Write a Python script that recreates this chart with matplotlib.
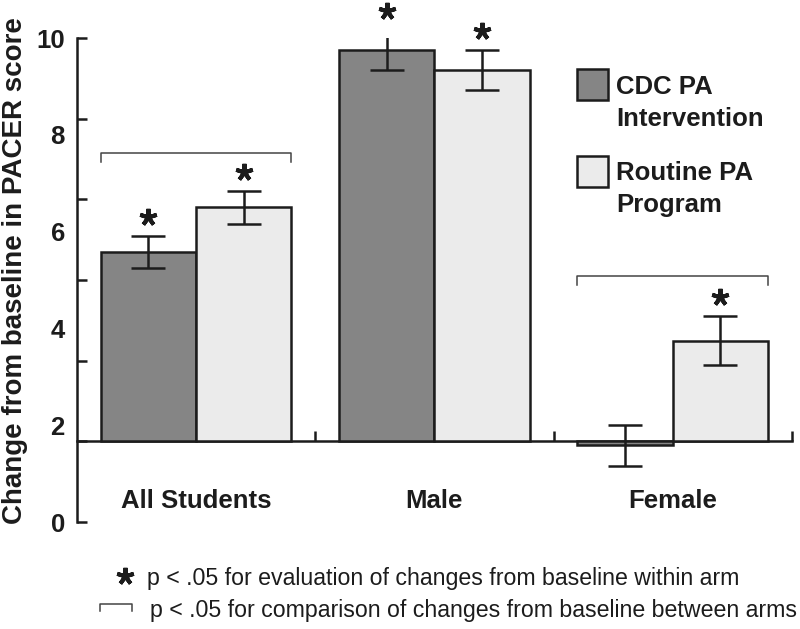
import matplotlib
matplotlib.use("Agg")
import matplotlib.pyplot as plt
from matplotlib.patches import Rectangle
import numpy as np

plt.rcParams['font.family'] = ['Liberation Sans', 'DejaVu Sans']

groups = ['All Students', 'Male', 'Female']
cdc = [4.7, 9.7, -0.1]
cdc_err = [0.4, 0.5, 0.5]
routine = [5.8, 9.2, 2.5]
routine_err = [0.4, 0.5, 0.6]
cdc_star = [True, True, False]
routine_star = [True, True, True]
bracket_groups = [0, 2]
bracket_level = [7.15, 4.1]
series_names = ['CDC PA\nIntervention', 'Routine PA\nProgram']
axis_ticks = [-2, 0, 2, 4, 6, 8, 10]
axis_labels = [0, 2, 4, 6, 8, 10]
note_star = 'p < .05 for evaluation of changes from baseline within arm'
note_bracket = 'p < .05 for comparison of changes from baseline between arms'

ink = '#1c1c1c'
dark = '#858585'
light = '#ebebeb'

fig = plt.figure(figsize=(8, 6.29), dpi=100)
ax = fig.add_axes([0.096, 0.170, 0.894, 0.7695])

x = np.arange(len(groups))
w = 0.4
ekw = dict(ecolor=ink, elinewidth=1.8, capsize=12, capthick=1.8)
ax.bar(x - w / 2, cdc, w, color=dark, edgecolor=ink, linewidth=1.8,
       yerr=cdc_err, error_kw=ekw, zorder=3)
ax.bar(x + w / 2, routine, w, color=light, edgecolor=ink, linewidth=1.8,
       yerr=routine_err, error_kw=ekw, zorder=3)

# significance stars above the error bars
gap = 0.47
for vals, errs, flags, off in [(cdc, cdc_err, cdc_star, -w / 2),
                               (routine, routine_err, routine_star, w / 2)]:
    xs = [x[i] + off for i in range(len(vals)) if flags[i]]
    ys = [vals[i] + errs[i] + gap for i in range(len(vals)) if flags[i]]
    ax.plot(xs, ys, ls='none', marker=(5, 2, 0), ms=12.5, mew=2.9,
            color=ink, clip_on=False, zorder=4)

# between-arm brackets
drop = 0.22
for g, lvl in zip(bracket_groups, bracket_level):
    ax.plot([g - w, g - w, g + w, g + w], [lvl - drop, lvl, lvl, lvl - drop],
            color='#444444', lw=1.1, zorder=4)

ax.set_xlim(-0.5, 2.5)
ax.set_ylim(-2, 10)
ax.spines['top'].set_visible(False)
ax.spines['right'].set_visible(False)
ax.spines['bottom'].set_position(('data', 0))
ax.spines['bottom'].set_linewidth(1.8)
ax.spines['left'].set_linewidth(1.8)
ax.spines['bottom'].set_color(ink)
ax.spines['left'].set_color(ink)

ax.set_xticks(x + 0.5)
ax.set_xticklabels([])
ax.tick_params(axis='x', which='major', direction='in', length=7.5,
               width=1.8, color=ink)
ax.set_xticks(x, minor=True)
ax.set_xticklabels(groups, minor=True, fontsize=18.5, fontweight='bold',
                   color=ink)
ax.tick_params(axis='x', which='minor', length=0, pad=34)

ax.set_yticks(axis_ticks)
ax.set_yticklabels([])
ax.tick_params(axis='y', direction='in', length=7.5, width=1.8, color=ink)

# printed axis labels
ax2 = ax.twinx()
ax2.set_ylim(0, 10)
ax2.yaxis.tick_left()
ax2.set_yticks(axis_labels)
ax2.set_yticklabels([str(v) for v in axis_labels], fontsize=18.5,
                    fontweight='bold', color=ink)
ax2.tick_params(axis='y', length=0, pad=8.6)
for s in ax2.spines.values():
    s.set_visible(False)
ax2.yaxis.set_label_position('left')
ax2.set_ylabel('Change from baseline in PACER score', fontsize=20,
               fontweight='bold', color=ink)
ax2.yaxis.set_label_coords(-0.068, 0.52)

# legend
for i, (name, col) in enumerate(zip(series_names, [dark, light])):
    y0 = [0.872, 0.693][i]
    ax.add_patch(Rectangle((0.699, y0), 0.0434, 0.064, transform=ax.transAxes,
                           facecolor=col, edgecolor=ink, lw=1.8,
                           clip_on=False, zorder=5))
    ax.text(0.754, [0.9245, 0.7468][i], name, transform=ax.transAxes,
            ha='left', va='top', fontsize=18.5, fontweight='bold',
            color=ink, linespacing=1.45)

# footnotes
fig.lines.append(plt.Line2D([125 / 800], [1 - 576 / 629], ls='none',
                            marker=(5, 2, 0), ms=12.5, mew=2.9, color=ink,
                            transform=fig.transFigure))
fig.text(147 / 800, 1 - 585 / 629, note_star, fontsize=16.7, color=ink,
         va='baseline')
fig.lines.append(plt.Line2D([100 / 800, 100 / 800, 132 / 800, 132 / 800],
                            [1 - 611 / 629, 1 - 604 / 629, 1 - 604 / 629,
                             1 - 611 / 629],
                            color='#444444', lw=1.1,
                            transform=fig.transFigure))
fig.text(150 / 800, 1 - 617 / 629, note_bracket, fontsize=16.7, color=ink,
         va='baseline')

fig.savefig('out.png', dpi=100)
